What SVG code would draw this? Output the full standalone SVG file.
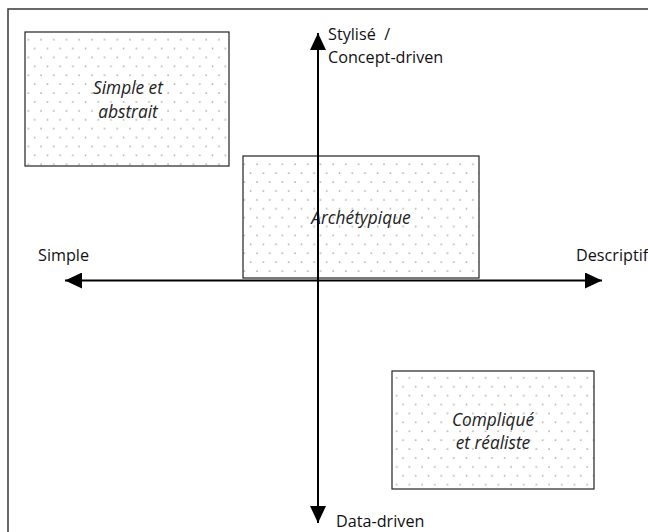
<svg xmlns="http://www.w3.org/2000/svg" width="648" height="532" viewBox="0 0 648 532">
<style>
.lbl{font-family:"Open Sans","Noto Sans",sans-serif;font-size:16.2px;fill:#111}
.it{font-family:"Open Sans","Noto Sans",sans-serif;font-size:17.3px;font-style:italic;fill:#222;text-anchor:middle}
.box{fill:url(#dots);stroke:#222;stroke-width:1.2}
.axis{stroke:#000;stroke-width:2;fill:none;marker-start:url(#ah);marker-end:url(#ah)}
</style>
<defs>
<pattern id="dots" patternUnits="userSpaceOnUse" width="12.7" height="17.8">
<rect width="12.7" height="17.8" fill="#fff"/>
<circle cx="3" cy="4" r="0.9" fill="#aaa"/>
<circle cx="9.35" cy="12.9" r="0.9" fill="#aaa"/>
</pattern>
<marker id="ah" markerUnits="userSpaceOnUse" markerWidth="17" markerHeight="16" refX="17" refY="8" orient="auto-start-reverse">
<path d="M0,0 L17,8 L0,16 Z" fill="#000"/>
</marker>
</defs>
<rect x="8" y="9" width="700" height="600" fill="#fff" stroke="#444" stroke-width="1.6"/>
<g id="node-simple-abstrait">
<rect class="box" x="25" y="32" width="204" height="134"/>
<text class="it" x="128" y="94">Simple et</text>
<text class="it" x="128" y="118">abstrait</text>
</g>
<g id="node-archetypique">
<rect class="box" x="243" y="156" width="236" height="122"/>
<text class="it" x="361" y="224">Archétypique</text>
</g>
<g id="node-complique">
<rect class="box" x="392" y="371" width="202" height="118"/>
<text class="it" x="493" y="426">Compliqué</text>
<text class="it" x="493" y="449">et réaliste</text>
</g>
<g id="connectors">
<line class="axis" x1="65" y1="280.5" x2="602" y2="280.5"/>
<line class="axis" x1="318" y1="523" x2="318" y2="33"/>
</g>
<g id="labels">
<text class="lbl" x="328" y="40" xml:space="preserve">Stylisé  /</text>
<text class="lbl" x="328" y="63">Concept-driven</text>
<text class="lbl" x="38" y="261">Simple</text>
<text class="lbl" x="576" y="261">Descriptif</text>
<text class="lbl" x="336" y="527">Data-driven</text>
</g>
</svg>
